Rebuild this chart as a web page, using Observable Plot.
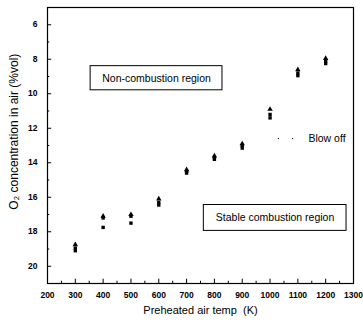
<!DOCTYPE html>
<html>
<head>
<meta charset="utf-8">
<script src="https://cdn.jsdelivr.net/npm/d3@7"></script>
<script src="https://cdn.jsdelivr.net/npm/@observablehq/plot@0.6"></script>
<style>
  html, body { margin: 0; padding: 0; background: #fff; }
  #chart { width: 363px; height: 323px; }
</style>
</head>
<body>
<div id="chart"></div>
<script>
// Data
const temps = [300, 400, 500, 600, 700, 800, 900, 1000, 1100, 1200];
const seriesTriangle = [18.75, 17.1, 17.0, 16.1, 14.4, 13.6, 12.9, 10.9, 8.6, 7.95];
const seriesSquareA  = [18.95, 17.2, 17.1, 16.3, 14.5, 13.7, 13.0, 11.2, 8.8, 8.1];
const seriesSquareB  = [19.1, 17.75, 17.5, 16.45, 14.6, 13.8, 13.15, 11.4, 8.95, 8.25];
const xMajor = [200, 300, 400, 500, 600, 700, 800, 900, 1000, 1100, 1200, 1300];
const xMinor = [250, 350, 450, 550, 650, 750, 850, 950, 1050, 1150, 1250];
const yMajor = [6, 8, 10, 12, 14, 16, 18, 20];
const yMinor = [5, 7, 9, 11, 13, 15, 17, 19, 21];
const regionLabels = ["Non-combustion region", "Stable combustion region"];
const blowOffLabel = "Blow off";

const tri = temps.map((t, i) => ({t, o: seriesTriangle[i]}));
const sqA = temps.map((t, i) => ({t, o: seriesSquareA[i]}));
const sqB = temps.map((t, i) => ({t, o: seriesSquareB[i]}));

const boxes = [
  {label: regionLabels[0], x1: 355, x2: 829, y1: 8.4, y2: 9.8, x: 592, y: 9.1},
  {label: regionLabels[1], x1: 762, x2: 1275, y1: 16.45, y2: 17.95, x: 1018, y: 17.2}
];

const font = "'Liberation Sans', Arial, sans-serif";

const chart = Plot.plot({
  width: 363,
  height: 323,
  marginLeft: 47,
  marginRight: 10,
  marginTop: 7,
  marginBottom: 40,
  style: {fontFamily: font, fontSize: "9px", color: "#000", background: "#fff"},
  x: {domain: [200, 1300]},
  y: {domain: [5, 21], reverse: true},
  marks: [
    Plot.frame({stroke: "#000", strokeWidth: 1.2}),
    // labels
    Plot.axisX(xMajor, {tickSize: 0, tickPadding: 8, label: null, fontSize: 8.5, fontWeight: "bold", tickFormat: d => String(d)}),
    Plot.axisY(yMajor, {tickSize: 0, tickPadding: 10, label: null, fontSize: 8.5, fontWeight: "bold"}),
    // inward ticks
    Plot.ruleX(xMajor, {x: d => d, y1: 21, y2: 20.75, stroke: "#000"}),
    Plot.ruleX(xMinor, {x: d => d, y1: 21, y2: 20.87, stroke: "#000"}),
    Plot.ruleY(yMajor, {y: d => d, x1: 200, x2: 215, stroke: "#000"}),
    Plot.ruleY(yMinor, {y: d => d, x1: 200, x2: 208, stroke: "#000"}),
    // data
    Plot.dot(sqB, {x: "t", y: "o", symbol: "square", r: 1.9, fill: "#000"}),
    Plot.dot(sqA, {x: "t", y: "o", symbol: "square", r: 1.9, fill: "#000"}),
    Plot.dot(tri, {x: "t", y: "o", symbol: "triangle", r: 2.0, fill: "#000"}),
    // region boxes
    Plot.rect(boxes, {x1: "x1", x2: "x2", y1: "y1", y2: "y2", fill: "#fff", stroke: "#000", strokeWidth: 1}),
    Plot.text(boxes, {x: "x", y: "y", text: "label", fontSize: 10.5, fill: "#000"}),
    // blow off
    Plot.dot([1030, 1081], {x: d => d, y: 12.6, r: 0.7, fill: "#000"}),
    Plot.text([blowOffLabel], {x: 1138, y: 12.58, text: d => d, textAnchor: "start", fontSize: 10.5, fill: "#000"}),
    // axis titles
    Plot.text(["Preheated air temp  (K)"], {x: 750, y: 21, dy: 23, text: d => d, fontSize: 11, fill: "#000", lineAnchor: "top"}),
    Plot.text(["O\u2082 concentration in air (%vol)"], {x: 200, y: 12.2, dx: -33, rotate: -90, text: d => d, fontSize: 12, fill: "#000"})
  ]
});
document.getElementById("chart").appendChild(chart);
</script>
</body>
</html>
